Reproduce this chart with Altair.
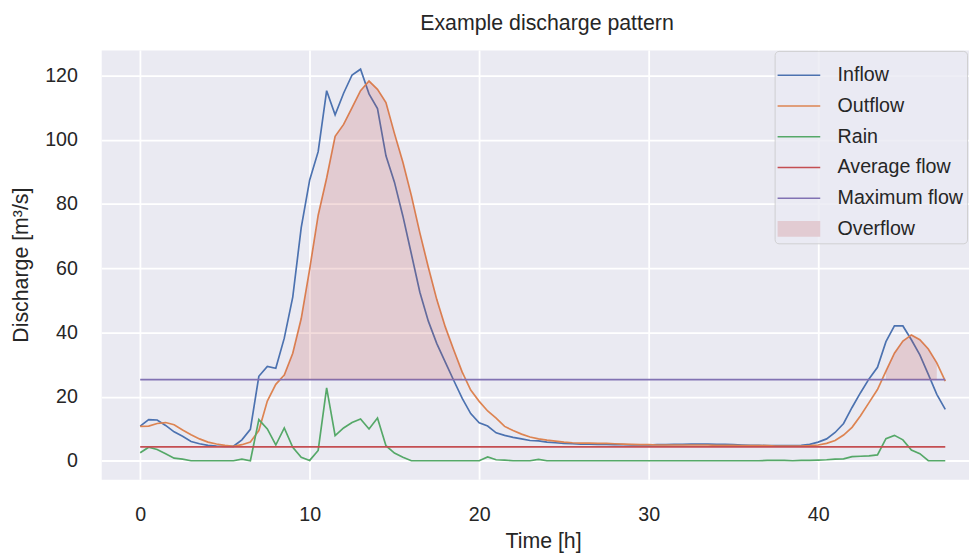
import altair as alt
import pandas as pd

# ---------------- data ----------------
time_h = [i * 0.5 for i in range(96)]  # 0 .. 47.5 h, half-hour steps

inflow = [10.8, 12.8, 12.7, 11.0, 9.0, 7.6, 6.0, 5.3, 4.8, 4.6,
          4.5, 4.5, 6.5, 9.8, 26.3, 29.4, 28.8, 38.2, 51.0, 72.6,
          87.5, 96.3, 115.3, 107.8, 114.5, 120.2, 122.0, 114.3, 109.7, 95.0,
          86.8, 76.2, 64.4, 52.5, 43.5, 36.5, 30.7, 25.0, 19.4, 14.7,
          11.8, 10.8, 8.7, 7.9, 7.3, 6.8, 6.3, 6.2, 5.8, 5.6,
          5.4, 5.3, 5.2, 5.2, 5.1, 5.1, 5.0, 5.0, 4.9, 4.9,
          4.9, 5.0, 5.0, 5.1, 5.1, 5.2, 5.2, 5.2, 5.1, 5.1,
          5.0, 4.9, 4.8, 4.8, 4.7, 4.7, 4.7, 4.7, 4.8, 5.1,
          5.8, 6.8, 8.8, 11.6, 16.6, 21.2, 25.5, 29.1, 37.1, 42.0,
          42.0, 37.7, 33.0, 26.9, 20.7, 16.0]

outflow = [10.7, 10.8, 11.6, 11.9, 11.2, 9.6, 8.1, 6.8, 5.8, 5.2,
           4.8, 4.5, 5.0, 5.8, 9.4, 18.6, 23.8, 26.7, 33.5, 44.3,
           59.8, 76.5, 88.1, 101.1, 104.8, 110.0, 115.3, 118.3, 115.7, 111.6,
           102.0, 93.0, 82.6, 71.0, 60.3, 50.2, 41.7, 34.5, 27.6, 22.0,
           18.5, 15.5, 13.3, 10.7, 9.4, 8.3, 7.4, 6.8, 6.4, 6.1,
           5.8, 5.6, 5.5, 5.5, 5.4, 5.4, 5.3, 5.2, 5.1, 5.0,
           5.0, 4.9, 4.9, 4.9, 4.9, 4.9, 4.9, 4.9, 4.8, 4.8,
           4.8, 4.7, 4.7, 4.7, 4.7, 4.6, 4.6, 4.6, 4.6, 4.7,
           4.9, 5.4, 6.3, 8.0, 10.4, 14.0, 18.1, 22.2, 27.9, 33.5,
           37.3, 39.2, 37.7, 34.8, 30.5, 24.8]

rain = [2.5, 4.2, 3.5, 2.2, 0.8, 0.5, 0.0, 0.0, 0.0, 0.0,
        0.0, 0.0, 0.5, 0.0, 12.8, 9.9, 4.9, 10.2, 4.2, 1.1,
        0.1, 3.2, 22.7, 7.8, 10.2, 11.9, 13.0, 9.9, 13.3, 4.7,
        2.4, 1.1, 0.0, 0.0, 0.0, 0.0, 0.0, 0.0, 0.0, 0.0,
        0.0, 1.2, 0.3, 0.2, 0.0, 0.0, 0.0, 0.4, 0.0, 0.0,
        0.0, 0.0, 0.0, 0.0, 0.0, 0.0, 0.0, 0.0, 0.0, 0.0,
        0.0, 0.0, 0.0, 0.0, 0.0, 0.0, 0.0, 0.0, 0.0, 0.0,
        0.0, 0.0, 0.0, 0.0, 0.1, 0.1, 0.1, 0.0, 0.1, 0.1,
        0.2, 0.3, 0.5, 0.6, 1.3, 1.4, 1.5, 1.8, 6.9, 7.9,
        6.5, 3.3, 2.2, 0.0, 0.0, 0.0]

average_flow = 4.3
maximum_flow = 25.3

series_names = ["Inflow", "Outflow", "Rain", "Average flow", "Maximum flow", "Overflow"]
line_colors = ["#4C72B0", "#DD8452", "#55A868", "#C44E52", "#8172B3"]
overflow_color = "#C44E52"
overflow_legend_color = "#E2CBD2"
x_ticks = [0, 10, 20, 30, 40]
y_ticks = [0, 20, 40, 60, 80, 100, 120]

# ---------------- tables ----------------
rows = []
for t, a, b, c in zip(time_h, inflow, outflow, rain):
    rows.append({"t": t, "series": "Inflow", "v": a})
    rows.append({"t": t, "series": "Outflow", "v": b})
    rows.append({"t": t, "series": "Rain", "v": c})
    rows.append({"t": t, "series": "Average flow", "v": average_flow})
    rows.append({"t": t, "series": "Maximum flow", "v": maximum_flow})
lines_df = pd.DataFrame(rows)

over_df = pd.DataFrame({
    "t": time_h,
    "v": [o if o > maximum_flow else None for o in outflow],
    "base": [maximum_flow] * len(time_h),
})

FONT = "Liberation Sans"
TXT = "#262626"

x_enc = alt.X("t:Q",
              scale=alt.Scale(domain=[-2.3, 48.9], nice=False, zero=False),
              axis=alt.Axis(values=x_ticks, title="Time [h]", labelPadding=25,
                            titlePadding=7, titleX=445.5, titleAlign="center",
                            labelFlush=False, format="d"))
y_enc = alt.Y("v:Q",
              scale=alt.Scale(domain=[-5.8, 128.0], nice=False, zero=False),
              axis=alt.Axis(values=y_ticks, title="Discharge [m³/s]", labelPadding=24,
                            titlePadding=12, labelFlush=False, format="d"))

lines = alt.Chart(lines_df).mark_line(strokeWidth=1.7, clip=True).encode(
    x=x_enc,
    y=y_enc,
    color=alt.Color("series:N",
                    scale=alt.Scale(domain=series_names[:5], range=line_colors),
                    legend=None),
    detail="series:N",
)

area = alt.Chart(over_df).mark_area(color=overflow_color, opacity=0.2).encode(
    x="t:Q",
    y="v:Q",
    y2="base:Q",
)

shape_paths = ["M-1.057,-0.04H1.057V0.04H-1.057Z"] * 5 + ["M-1.057,-0.393H1.057V0.393H-1.057Z"]
legend_fill = line_colors + [overflow_legend_color]

leg_props = dict(title=None, orient="none", legendX=679, legendY=1,
                 symbolSize=1656, symbolStrokeWidth=0, symbolOpacity=1,
                 labelFontSize=19.8, labelFont=FONT, labelColor=TXT,
                 labelOffset=18.5, rowPadding=0, padding=4,
                 fillColor="rgba(234,234,242,0.8)",
                 strokeColor="rgba(200,200,200,0.8)", cornerRadius=4,
                 labelLimit=400)

legend_layer = alt.Chart(lines_df).mark_point(filled=True, opacity=0).encode(
    x="t:Q",
    y="v:Q",
    fill=alt.Fill("series:N",
                  scale=alt.Scale(domain=series_names, range=legend_fill),
                  legend=alt.Legend(**leg_props)),
    shape=alt.Shape("series:N",
                    scale=alt.Scale(domain=series_names, range=shape_paths),
                    legend=alt.Legend(**leg_props)),
)

chart = alt.layer(lines, area, legend_layer).properties(
    width=875,
    height=433,
    background="#FFFFFF",
    autosize=alt.AutoSizeParams(type="none"),
    padding={"left": 94, "top": 40, "right": 0, "bottom": 73},
    title=alt.TitleParams("Example discharge pattern", fontSize=21.5, font=FONT,
                          fontWeight="normal", color=TXT, anchor="middle",
                          frame="group", dx=12, offset=15.5),
).configure_view(
    fill="#EAEAF2", stroke="transparent"
).configure_axis(
    domain=False, ticks=False, tickSize=0, grid=True, gridColor="#FFFFFF", gridWidth=1.8,
    labelFont=FONT, labelFontSize=19.8, labelColor=TXT,
    titleFont=FONT, titleFontSize=21.5, titleColor=TXT, titleFontWeight="normal",
)

chart.save("out.html", embed_options={"renderer": "svg", "actions": False})
